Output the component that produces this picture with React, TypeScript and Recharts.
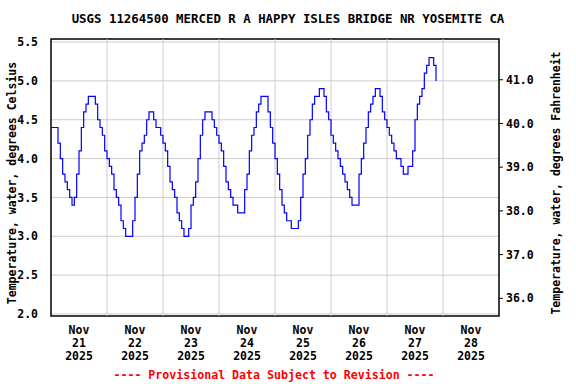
import { LineChart, Line, XAxis, YAxis, CartesianGrid, ReferenceLine, ReferenceArea } from 'recharts';

// hourly water temperature (deg C), starting Nov 20 2025 00:00
const tempC = [
    4.4, 4.4, 4.4, 4.2, 4.0, 3.8, 3.7, 3.6, 3.5, 3.4,
    3.5, 3.8, 4.1, 4.4, 4.6, 4.7, 4.8, 4.8, 4.8, 4.7,
    4.5, 4.4, 4.3, 4.1, 4.0, 3.9, 3.8, 3.6, 3.5, 3.4,
    3.2, 3.1, 3.0, 3.0, 3.0, 3.2, 3.5, 3.8, 4.1, 4.2,
    4.3, 4.5, 4.6, 4.6, 4.5, 4.4, 4.4, 4.3, 4.2, 4.1,
    3.9, 3.7, 3.6, 3.5, 3.3, 3.2, 3.1, 3.0, 3.0, 3.1,
    3.4, 3.5, 3.7, 4.0, 4.3, 4.5, 4.6, 4.6, 4.6, 4.5,
    4.4, 4.3, 4.2, 4.1, 3.9, 3.7, 3.6, 3.5, 3.4, 3.4,
    3.3, 3.3, 3.3, 3.6, 3.8, 4.1, 4.3, 4.4, 4.6, 4.7,
    4.8, 4.8, 4.8, 4.6, 4.4, 4.2, 4.0, 3.8, 3.6, 3.4,
    3.3, 3.2, 3.2, 3.1, 3.1, 3.1, 3.2, 3.5, 3.8, 4.0,
    4.3, 4.5, 4.7, 4.8, 4.8, 4.9, 4.9, 4.8, 4.6, 4.5,
    4.3, 4.2, 4.1, 4.0, 3.9, 3.8, 3.7, 3.6, 3.5, 3.4,
    3.4, 3.4, 3.8, 4.0, 4.2, 4.4, 4.6, 4.7, 4.8, 4.9,
    4.9, 4.8, 4.6, 4.5, 4.4, 4.3, 4.2, 4.1, 4.0, 4.0,
    3.9, 3.8, 3.8, 3.9, 3.9, 4.1, 4.5, 4.7, 4.8, 4.9,
    5.1, 5.2, 5.3, 5.3, 5.2, 5.0,
];

const xTickHours = [12, 36, 60, 84, 108, 132, 156, 180];
const dayLabels = ['21', '22', '23', '24', '25', '26', '27', '28'];
const monthLabel = 'Nov';
const yearLabel = '2025';
const dayGridHours = [24, 48, 72, 96, 120, 144, 168];

const celsiusTicks = [2.0, 2.5, 3.0, 3.5, 4.0, 4.5, 5.0, 5.5];
const fahrenheitTicks = [36, 37, 38, 39, 40, 41];

const data = tempC.map((c, i) => ({ hour: i, c }));

const FONT = '"DejaVu Sans Mono", monospace';

const DateTick = (props: any) => {
    const { x, y, payload } = props;
    const idx = xTickHours.indexOf(payload.value);
    return (
        <g>
            <text x={x} y={y + 18} textAnchor="middle" fontFamily={FONT} fontSize={11.5} fontWeight="bold" fill="#000">{monthLabel}</text>
            <text x={x} y={y + 31} textAnchor="middle" fontFamily={FONT} fontSize={11.5} fontWeight="bold" fill="#000">{dayLabels[idx]}</text>
            <text x={x} y={y + 44} textAnchor="middle" fontFamily={FONT} fontSize={11.5} fontWeight="bold" fill="#000">{yearLabel}</text>
        </g>
    );
};

const tickStyle = { fontSize: 11.5, fontFamily: FONT, fontWeight: 'bold', fill: '#000' };

export default function App() {
    return (
        <div style={{ position: 'relative', width: 576, height: 384, background: '#fff', fontFamily: FONT }}>
            <style>{'body{margin:0}'}</style>
            <div style={{ position: 'absolute', left: 0, width: 576, top: 11, textAlign: 'center', fontSize: 12.4, fontWeight: 'bold', lineHeight: '16px' }}>
                USGS 11264500 MERCED R A HAPPY ISLES BRIDGE NR YOSEMITE CA
            </div>
            <div style={{ position: 'absolute', left: 12, top: 183, transform: 'translate(-50%, -50%) rotate(-90deg)', whiteSpace: 'nowrap', fontSize: 11.5, fontWeight: 'bold', lineHeight: '14px' }}>
                Temperature, water, degrees Celsius
            </div>
            <div style={{ position: 'absolute', left: 556, top: 183, transform: 'translate(-50%, -50%) rotate(-90deg)', whiteSpace: 'nowrap', fontSize: 11.5, fontWeight: 'bold', lineHeight: '14px' }}>
                Temperature, water, degrees Fahrenheit
            </div>
            <div style={{ position: 'absolute', left: 0, width: 548, top: 367, textAlign: 'center', fontSize: 11.6, fontWeight: 'bold', color: '#ff0000', lineHeight: '16px' }}>
                ---- Provisional Data Subject to Revision ----
            </div>
            <div style={{ position: 'absolute', left: 0, top: 0 }}>
                <LineChart width={576} height={384} data={data} margin={{ top: 39, right: 0, left: 0, bottom: 0 }}>
                    <CartesianGrid stroke="#cccccc" vertical={false} horizontalValues={celsiusTicks} yAxisId="c" />
                    {dayGridHours.map((h) => (
                        <ReferenceLine key={h} x={h} yAxisId="c" stroke="#cccccc" />
                    ))}
                    <XAxis
                        dataKey="hour"
                        type="number"
                        domain={[0, 192]}
                        ticks={xTickHours}
                        height={68}
                        tickSize={0}
                        tickMargin={0}
                        axisLine={false}
                        tickLine={false}
                        tick={<DateTick />}
                        interval={0}
                    />
                    <YAxis
                        yAxisId="c"
                        orientation="left"
                        width={51}
                        type="number"
                        domain={[1.974, 5.539]}
                        allowDataOverflow
                        ticks={celsiusTicks}
                        tickFormatter={(v: number) => v.toFixed(1)}
                        tick={tickStyle}
                        axisLine={false}
                        tickLine={false}
                        tickMargin={7}
                        interval={0}
                    />
                    <YAxis
                        yAxisId="f"
                        orientation="right"
                        width={77}
                        type="number"
                        domain={[35.595, 41.932]}
                        allowDataOverflow
                        ticks={fahrenheitTicks}
                        tickFormatter={(v: number) => v.toFixed(1)}
                        tick={tickStyle}
                        axisLine={false}
                        tickLine={{ stroke: '#000' }}
                        tickSize={4}
                        tickMargin={3}
                        interval={0}
                    />
                    <ReferenceArea x1={0} x2={192} y1={1.974} y2={5.539} yAxisId="c" fill="none" stroke="#000" strokeWidth={1.5} ifOverflow="extendDomain" />
                    <Line
                        yAxisId="c"
                        dataKey="c"
                        type="stepAfter"
                        stroke="#0000ff"
                        strokeWidth={1.2}
                        dot={false}
                        isAnimationActive={false}
                    />
                </LineChart>
            </div>
        </div>
    );
}
